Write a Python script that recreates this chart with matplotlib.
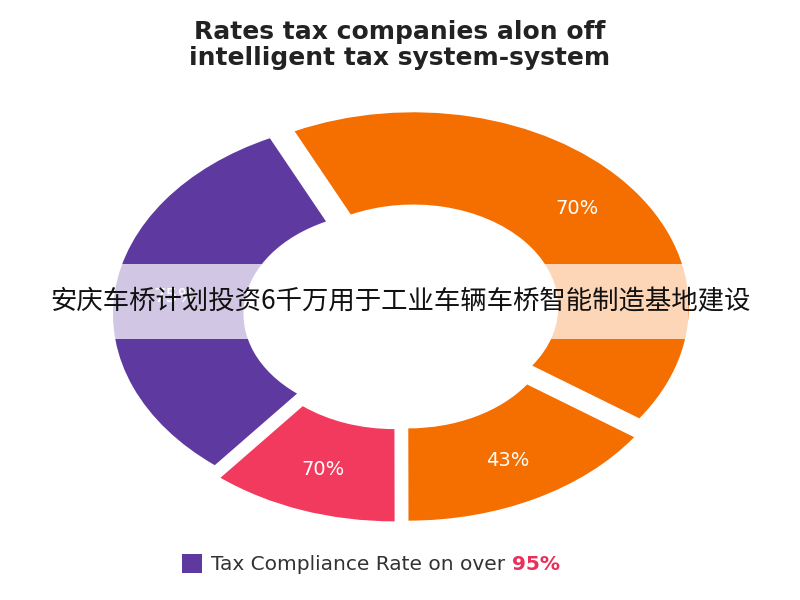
import numpy as np
import matplotlib.pyplot as plt
from matplotlib.patches import Rectangle

plt.rcParams['font.family'] = ['DejaVu Sans', 'Noto Sans CJK SC']

title = "Rates tax companies alon off\nintelligent tax system-system"
shares = [142, 52, 37, 109]          # visible angular share of each ring piece
labels = ["70%", "43%", "70%", "75%"]
colors = ["#F56E00", "#F56E00", "#F23A5E", "#5E3AA0"]
explode = [0.06, 0.06, 0.06, 0.04]
banner = "安庆车桥计划投资6千万用于工业车辆车桥智能制造基地建设"
legend_text = "Tax Compliance Rate on over "
legend_value = "95%"

fig = plt.figure(figsize=(8, 6), dpi=100)
ax = fig.add_axes([0, 0, 1, 1])
ax.axis('off')

wedges, _ = ax.pie(shares, colors=colors, explode=explode, startangle=115.5,
                   counterclock=False, radius=0.95,
                   wedgeprops=dict(width=0.45, linewidth=0))
ax.set_aspect('auto')
# map units: x 290 px per unit, y 205 px per unit, center at (400, 315)
ax.set_xlim(-400 / 290, 400 / 290)
ax.set_ylim(-(600 - 315) / 205, 315 / 205)

for w, lab, ex in zip(wedges, labels, explode):
    mid = np.deg2rad((w.theta1 + w.theta2) / 2)
    r = 0.74 + ex
    ax.text(r * np.cos(mid), r * np.sin(mid), lab, color="white",
            fontsize=14, ha="center", va="center")

fig.text(0.5, 0.925, title, ha="center", va="center", fontsize=18,
         fontweight="bold", color="#222222", linespacing=1.1)

fig.patches.append(Rectangle((0.135, 0.435), 0.725, 0.125, transform=fig.transFigure,
                             facecolor="white", alpha=0.72, edgecolor="none"))
fig.text(0.5, 0.497, banner, ha="center", va="center", fontsize=19,
         color="#111111", family=['Noto Sans CJK SC', 'DejaVu Sans'])

fig.patches.append(Rectangle((0.228, 0.045), 0.024, 0.032, transform=fig.transFigure,
                             facecolor="#5E3AA0", edgecolor="none"))
t = fig.text(0.264, 0.06, legend_text, ha="left", va="center", fontsize=14.5,
             color="#333333")
fig.canvas.draw()
bb = t.get_window_extent().transformed(fig.transFigure.inverted())
fig.text(bb.x1, 0.06, legend_value, ha="left", va="center", fontsize=14.5,
         color="#E8305A", fontweight="bold")

fig.savefig("out.png", dpi=100)
